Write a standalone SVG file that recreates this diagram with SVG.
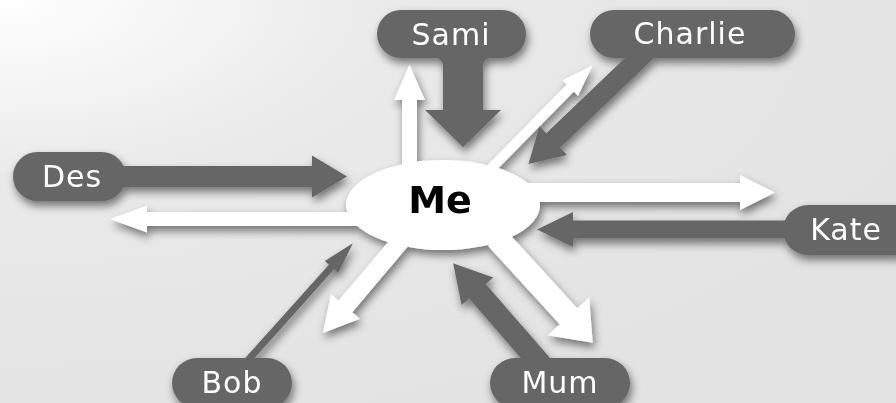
<svg xmlns="http://www.w3.org/2000/svg" width="896" height="403" viewBox="0 0 896 403">
  <defs>
    <radialGradient id="bg" cx="0" cy="0" r="1.1" gradientUnits="objectBoundingBox">
      <stop offset="0" stop-color="#ffffff"/>
      <stop offset="0.4" stop-color="#eaeaea"/>
      <stop offset="1" stop-color="#e3e3e3"/>
    </radialGradient>
    <filter id="sh" x="-10%" y="-10%" width="120%" height="130%">
      <feDropShadow dx="2" dy="5" stdDeviation="4" flood-color="#000" flood-opacity="0.5"/>
    </filter>
  </defs>
  <style>
    .dark { fill: #666666; }
    .light { fill: #ffffff; }
    .lbl { font-family: "DejaVu Sans", "Liberation Sans", sans-serif; font-size: 30px; fill: #ffffff; text-anchor: middle; letter-spacing: 1px; }
    .me { font-family: "DejaVu Sans", "Liberation Sans", sans-serif; font-size: 38px; font-weight: bold; fill: #000000; text-anchor: middle; }
  </style>
  <rect x="0" y="0" width="896" height="403" fill="url(#bg)"/>

  <g filter="url(#sh)">
    <g id="connectors">
      <!-- Sami -> Me -->
      <path class="dark" transform="translate(463,52) rotate(90)" d="M0,-20 L58,-20 L58,-38 L95,0 L58,38 L58,20 L0,20 Z"/>
      <path class="dark" d="M435,57 L443,57 L443,66 A8,8 0 0 0 435,58 Z M491,57 L483,57 L483,66 A8,8 0 0 1 491,58 Z"/>
      <!-- Me -> Sami -->
      <path class="light" transform="translate(409.5,175) rotate(-90)" d="M0,-7.5 L75,-7.5 L75,-15.5 L110,0 L75,15.5 L75,7.5 L0,7.5 Z"/>
      <!-- Charlie -> Me -->
      <path class="dark" transform="translate(650,48) rotate(136.3)" d="M0,-10 L134,-10 L134,-20 L168,0 L134,20 L134,10 L0,10 Z"/>
      <!-- Me -> Charlie -->
      <path class="light" transform="translate(470,190) rotate(-45.5)" d="M0,-5 L143,-5 L143,-11 L175,0 L143,11 L143,5 L0,5 Z"/>
      <!-- Des -> Me -->
      <path class="dark" transform="translate(110,176.5)" d="M0,-10.5 L202,-10.5 L202,-21 L237,0 L202,21 L202,10.5 L0,10.5 Z"/>
      <!-- Me -> Des -->
      <path class="light" transform="translate(380,219) rotate(180)" d="M0,-7 L233,-7 L233,-13.5 L270,0 L233,13.5 L233,7 L0,7 Z"/>
      <!-- Me -> Kate -->
      <path class="light" transform="translate(500,192.5)" d="M0,-9.5 L240,-9.5 L240,-17.5 L275,0 L240,17.5 L240,9.5 L0,9.5 Z"/>
      <!-- Kate -> Me -->
      <path class="dark" transform="translate(800,229.5) rotate(180)" d="M0,-9 L227,-9 L227,-17.5 L263,0 L227,17.5 L227,9 L0,9 Z"/>
      <!-- Bob -> Me -->
      <path class="dark" transform="translate(240,369) rotate(-48.1)" d="M0,-3.5 L137,-3.5 L137,-9 L169,0 L137,9 L137,3.5 L0,3.5 Z"/>
      <!-- Me -> Bob -->
      <path class="light" transform="translate(410,230) rotate(130.2)" d="M0,-9 L100,-9 L100,-19 L135,0 L100,19 L100,9 L0,9 Z"/>
      <!-- Mum -> Me -->
      <path class="dark" transform="translate(545,369) rotate(-131)" d="M0,-11 L103,-11 L103,-21 L140,0 L103,21 L103,11 L0,11 Z"/>
      <!-- Me -> Mum -->
      <path class="light" transform="translate(497,238) rotate(47.6)" d="M0,-12 L106,-12 L106,-28 L142,0 L106,28 L106,12 L0,12 Z"/>
    </g>

    <g id="node-me">
      <ellipse class="light" cx="443" cy="205" rx="97" ry="45"/>
      <text class="me" x="440" y="213">Me</text>
    </g>
    <g id="node-sami">
      <rect class="dark" x="377" y="10" width="149" height="48" rx="24"/>
      <text class="lbl" x="451" y="45">Sami</text>
    </g>
    <g id="node-charlie">
      <rect class="dark" x="590" y="10" width="205" height="48" rx="24"/>
      <text class="lbl" x="690" y="44">Charlie</text>
    </g>
    <g id="node-des">
      <rect class="dark" x="13" y="152" width="113" height="49" rx="24.5"/>
      <text class="lbl" x="72" y="187">Des</text>
    </g>
    <g id="node-kate">
      <rect class="dark" x="783" y="205" width="140" height="50" rx="25"/>
      <text class="lbl" x="846" y="240">Kate</text>
    </g>
    <g id="node-bob">
      <rect class="dark" x="172" y="358" width="120" height="50" rx="25"/>
      <text class="lbl" x="232" y="393">Bob</text>
    </g>
    <g id="node-mum">
      <rect class="dark" x="490" y="358" width="140" height="50" rx="25"/>
      <text class="lbl" x="560" y="393">Mum</text>
    </g>
  </g>
</svg>
